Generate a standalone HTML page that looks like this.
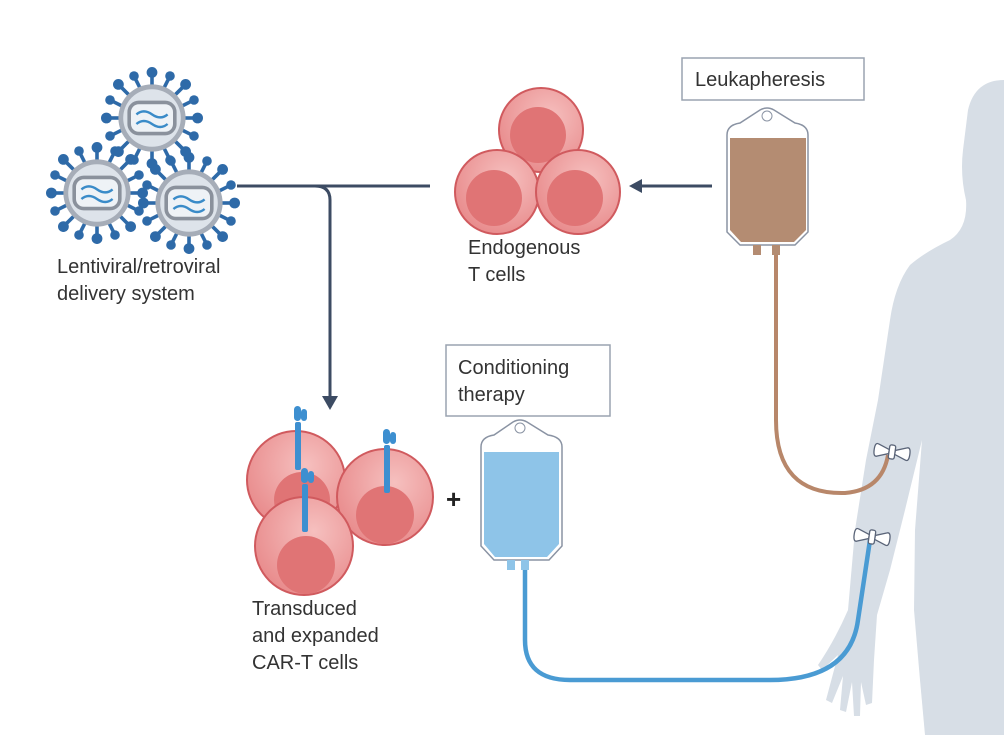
<!DOCTYPE html>
<html><head><meta charset="utf-8"><style>
html,body{margin:0;padding:0;background:#fff;}
svg{display:block}
text{font-family:"Liberation Sans",sans-serif;fill:#333;font-size:20px}
</style></head><body>
<svg width="1004" height="751" viewBox="0 0 1004 751">
<defs>
<radialGradient id="cell" cx="0.6" cy="0.35" r="0.7">
<stop offset="0" stop-color="#f6c0bf"/><stop offset="1" stop-color="#e88a8b"/></radialGradient>
<g id="virus">
<g stroke="#2e6aa8" stroke-width="3">
<line x1="0" y1="-27" x2="0" y2="-36"/><line x1="0" y1="27" x2="0" y2="36"/>
<line x1="-27" y1="0" x2="-36" y2="0"/><line x1="27" y1="0" x2="36" y2="0"/>
<line x1="19" y1="19" x2="26" y2="26"/><line x1="-19" y1="19" x2="-26" y2="26"/>
<line x1="19" y1="-19" x2="26" y2="-26"/><line x1="-19" y1="-19" x2="-26" y2="-26"/>
<line x1="10" y1="-25" x2="14" y2="-33"/><line x1="-10" y1="-25" x2="-14" y2="-33"/>
<line x1="10" y1="25" x2="14" y2="33"/><line x1="-10" y1="25" x2="-14" y2="33"/>
<line x1="25" y1="10" x2="33" y2="14"/><line x1="-25" y1="10" x2="-33" y2="14"/>
<line x1="25" y1="-10" x2="33" y2="-14"/><line x1="-25" y1="-10" x2="-33" y2="-14"/>
</g>
<g fill="#2e6aa8">
<circle cx="0" cy="-38" r="4.5"/><circle cx="0" cy="38" r="4.5"/><circle cx="-38" cy="0" r="4.5"/><circle cx="38" cy="0" r="4.5"/>
<circle cx="28" cy="28" r="4.5"/><circle cx="-28" cy="28" r="4.5"/><circle cx="28" cy="-28" r="4.5"/><circle cx="-28" cy="-28" r="4.5"/>
<circle cx="15" cy="-35" r="4"/><circle cx="-15" cy="-35" r="4"/><circle cx="15" cy="35" r="4"/><circle cx="-15" cy="35" r="4"/>
<circle cx="35" cy="15" r="4"/><circle cx="-35" cy="15" r="4"/><circle cx="35" cy="-15" r="4"/><circle cx="-35" cy="-15" r="4"/>
</g>
<circle r="28" fill="#a6adb8"/><circle r="24" fill="#dde3ea"/>
<rect x="-19" y="-13" width="38" height="26" rx="8" fill="#eef2f6" stroke="#8a919c" stroke-width="3"/>
<path d="M-13 -3 q6 -5 13 0 t13 0 M-13 5 q6 -5 13 0 t13 0" fill="none" stroke="#3a8bc8" stroke-width="2"/>
</g>
<g id="car">
<rect x="-3" y="-2" width="6" height="48" rx="2" fill="#3d8fd0"/>
<rect x="-4" y="-18" width="7" height="15" rx="3.5" fill="#3d8fd0"/>
<rect x="3" y="-15" width="6" height="12" rx="3" fill="#3d8fd0"/>
</g>
<g id="cann">
<path d="M-14 -6 Q-18 -8 -18 0 Q-18 8 -14 6 L-3 2 L-3 -2 Z M14 -6 Q18 -8 18 0 Q18 8 14 6 L3 2 L3 -2 Z" fill="#fff" stroke="#5a6478" stroke-width="1.3"/>
<rect x="-3" y="-7" width="6" height="14" rx="2" fill="#fff" stroke="#5a6478" stroke-width="1.3"/>
</g>
</defs>

<!-- body silhouette -->
<path d="M1004 80 Q975 80 968 110 L963 150 Q960 175 966 200 Q968 228 950 240 Q925 252 910 265 Q895 285 890 320 L878 400 L866 460 L855 530 L848 610 Q835 640 818 665 L822 670 L838 655 L826 700 L832 703 L843 676 L840 710 L846 712 L852 682 L854 716 L860 716 L861 682 L866 705 L872 703 L874 660 L877 615 L890 570 L905 510 L922 440 L915 530 L914 610 L920 680 L925 735 L1004 735 Z" fill="#d7dee6"/>

<!-- connectors -->
<g stroke="#3c4b63" stroke-width="3" fill="none">
<path d="M237 186 H430"/>
<path d="M315 186 Q330 186 330 200 V398"/>
<path d="M712 186 H640"/>
</g>
<path d="M322 396 L338 396 L330 410 Z" fill="#3c4b63"/>
<path d="M642 179 L642 193 L629 186 Z" fill="#3c4b63"/>

<!-- viruses -->
<use href="#virus" transform="translate(152,118) scale(1.2)"/>
<use href="#virus" transform="translate(97,193) scale(1.2)"/>
<use href="#virus" transform="translate(189,203) scale(1.2)"/>

<!-- endogenous T cells -->
<g stroke="#d05a5e" stroke-width="2">
<circle cx="541" cy="130" r="42" fill="url(#cell)"/><circle cx="538" cy="135" r="28" fill="#e07475" stroke="none"/>
<circle cx="497" cy="192" r="42" fill="url(#cell)"/><circle cx="494" cy="198" r="28" fill="#e07475" stroke="none"/>
<circle cx="578" cy="192" r="42" fill="url(#cell)"/><circle cx="575" cy="198" r="28" fill="#e07475" stroke="none"/>
</g>

<!-- CAR-T cells -->
<g stroke="#d05a5e" stroke-width="2">
<circle cx="296" cy="480" r="49" fill="url(#cell)"/><circle cx="302" cy="500" r="28" fill="#e07475" stroke="none"/>
<circle cx="385" cy="497" r="48" fill="url(#cell)"/><circle cx="385" cy="515" r="29" fill="#e07475" stroke="none"/>
<circle cx="304" cy="546" r="49" fill="url(#cell)"/><circle cx="306" cy="565" r="29" fill="#e07475" stroke="none"/>
</g>
<use href="#car" x="298" y="424"/>
<use href="#car" x="387" y="447"/>
<use href="#car" x="305" y="486"/>

<!-- tubes -->
<path d="M776 255 V420 Q776 495 845 493 Q882 490 888 455" fill="none" stroke="#b8876a" stroke-width="4"/>
<path d="M525 568 V640 Q525 680 570 680 H770 Q850 680 858 620 L870 540" fill="none" stroke="#4a9bd3" stroke-width="4.5"/>

<!-- brown bag -->
<path d="M760 110 Q767 106 774 110 L795 123 Q808 125 808 135 V232 L795 245 H740 L727 232 V135 Q727 125 740 123 Z" fill="#fff" stroke="#8a93a3" stroke-width="1.5"/>
<path d="M730 138 H806 V230 L794 242 H741 L730 230 Z" fill="#b48c72"/>
<circle cx="767" cy="116" r="5" fill="#fff" stroke="#8a93a3"/>
<rect x="753" y="245" width="8" height="10" fill="#b48c72"/><rect x="772" y="245" width="8" height="10" fill="#b48c72"/>

<!-- blue bag -->
<path d="M513 422 Q520 418 527 422 L548 435 Q562 437 562 447 V546 L549 560 H494 L481 546 V447 Q481 437 494 435 Z" fill="#fff" stroke="#8a93a3" stroke-width="1.5"/>
<path d="M484 452 H559 V544 L547 557 H495 L484 544 Z" fill="#8ec4e8"/>
<circle cx="520" cy="428" r="5" fill="#fff" stroke="#8a93a3"/>
<rect x="507" y="560" width="8" height="10" fill="#8ec4e8"/><rect x="521" y="560" width="8" height="10" fill="#8ec4e8"/>

<!-- cannulas -->
<use href="#cann" transform="translate(892,452) rotate(8)"/>
<use href="#cann" transform="translate(872,537) rotate(8)"/>

<text x="446" y="508" style="font-size:26px;font-weight:bold;fill:#222">+</text>

<!-- labels -->
<rect x="682" y="58" width="182" height="42" fill="#fff" stroke="#9aa3b0" stroke-width="1.5"/>
<text x="695" y="86">Leukapheresis</text>
<rect x="446" y="345" width="164" height="71" fill="#fff" stroke="#9aa3b0" stroke-width="1.5"/>
<text x="458" y="374">Conditioning</text>
<text x="458" y="401">therapy</text>
<text x="468" y="254">Endogenous</text>
<text x="468" y="281">T cells</text>
<text x="57" y="273">Lentiviral/retroviral</text>
<text x="57" y="300">delivery system</text>
<text x="252" y="615">Transduced</text>
<text x="252" y="642">and expanded</text>
<text x="252" y="669">CAR-T cells</text>
</svg>
</body></html>
